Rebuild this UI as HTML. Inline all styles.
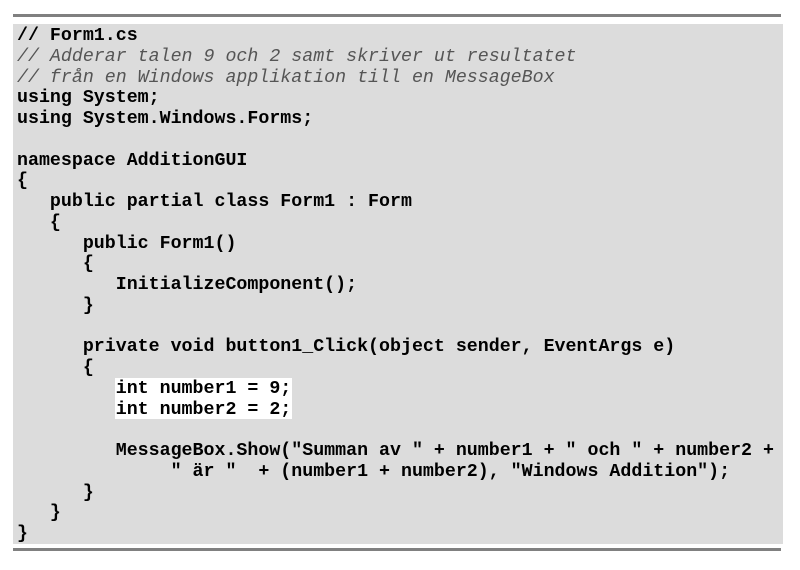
<!DOCTYPE html>
<html><head><meta charset="utf-8"><style>
body{margin:0;background:#fff;width:800px;height:570px;overflow:hidden;position:relative}
.l1{position:absolute;left:13px;top:14px;width:768px;height:3px;background:#808080}
.l2{position:absolute;left:13px;top:548px;width:768px;height:3px;background:#808080}
.box{position:absolute;left:13px;top:24px;width:770px;height:520px;background:#dcdcdc}
pre{position:absolute;left:17px;top:26px;margin:0;font-family:"Liberation Mono",monospace;font-weight:bold;font-size:18.3px;line-height:20.75px;color:#000}
i{font-weight:normal;color:#555}
.hl{position:absolute;left:115px;top:378px;width:177px;height:41px;background:#fff}
</style></head><body>
<div class="l1"></div><div class="box"></div><div class="hl"></div><div class="l2"></div>
<pre>// Form1.cs
<i>// Adderar talen 9 och 2 samt skriver ut resultatet</i>
<i>// från en Windows applikation till en MessageBox</i>
using System;
using System.Windows.Forms;

namespace AdditionGUI
{
   public partial class Form1 : Form
   {
      public Form1()
      {
         InitializeComponent();
      }

      private void button1_Click(object sender, EventArgs e)
      {
         int number1 = 9;
         int number2 = 2;

         MessageBox.Show("Summan av " + number1 + " och " + number2 +
              " är "  + (number1 + number2), "Windows Addition");
      }
   }
}</pre>
</body></html>
